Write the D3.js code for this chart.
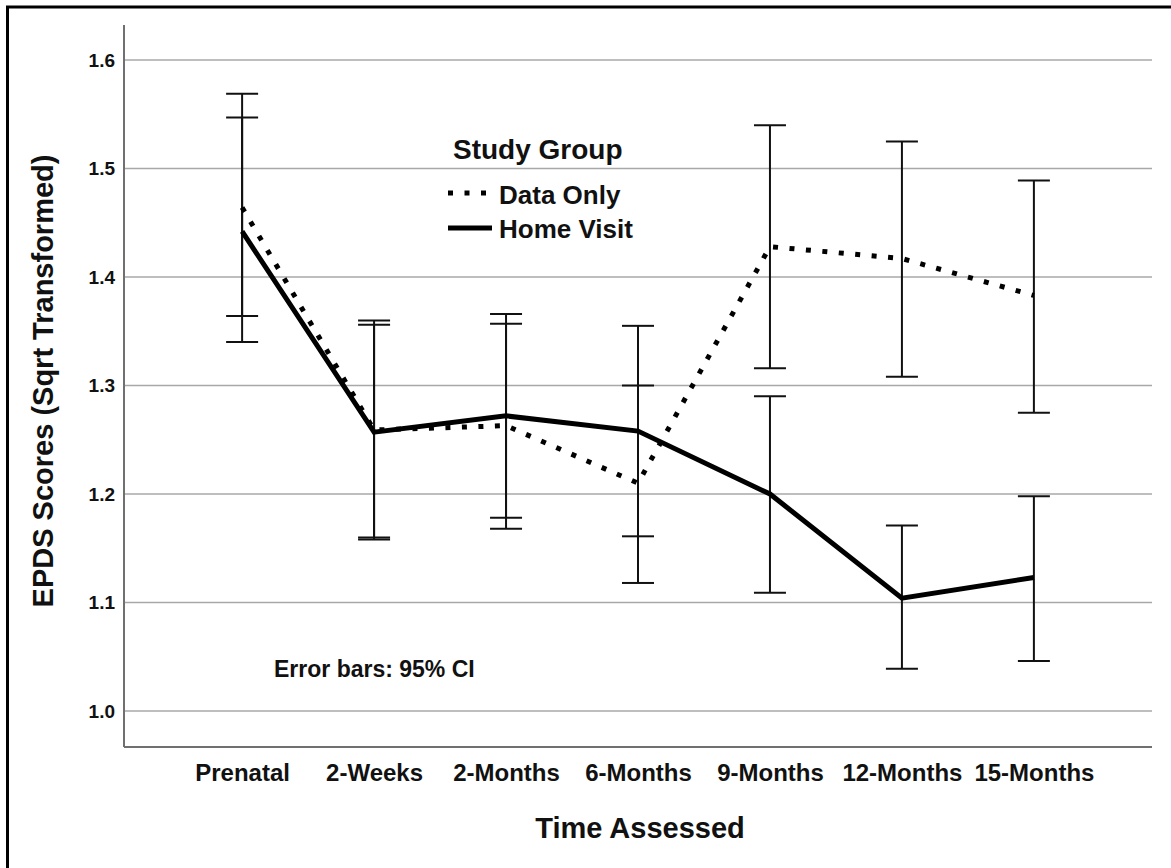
<!DOCTYPE html>
<html>
<head>
<meta charset="utf-8">
<script src="https://cdn.jsdelivr.net/npm/d3@7"></script>
<style>
  body { margin: 0; background: #fff; }
  svg { display: block; font-family: "Liberation Sans", Arial, sans-serif; }
</style>
</head>
<body>
<div id="chart"></div>
<script>
// time points
var times = ["Prenatal", "2-Weeks", "2-Months", "6-Months", "9-Months", "12-Months", "15-Months"];
// Data Only group: means and 95% CI
var dataOnlyMean = [1.464, 1.259, 1.263, 1.210, 1.428, 1.417, 1.383];
var dataOnlyLow  = [1.364, 1.158, 1.168, 1.118, 1.316, 1.308, 1.275];
var dataOnlyHigh = [1.569, 1.360, 1.357, 1.300, 1.540, 1.525, 1.489];
// Home Visit group
var homeMean = [1.442, 1.257, 1.272, 1.258, 1.200, 1.104, 1.123];
var homeLow  = [1.340, 1.160, 1.178, 1.161, 1.109, 1.039, 1.046];
var homeHigh = [1.547, 1.356, 1.366, 1.355, 1.290, 1.171, 1.198];
var yTicks = [1.0, 1.1, 1.2, 1.3, 1.4, 1.5, 1.6];

function drawChart() {
    var W = 1171, H = 868;
    var pLeft = 124, pRight = 1152, pTop = 25, pBottom = 747;

    var svg = d3.select("#chart").append("svg")
        .attr("width", W)
        .attr("height", H);

    // outer frame
    svg.append("rect")
        .attr("x", 7.5).attr("y", 7)
        .attr("width", W).attr("height", H)
        .attr("fill", "none")
        .attr("stroke", "#000")
        .attr("stroke-width", 3);

    var x = d3.scalePoint()
        .domain(times)
        .range([pLeft, pRight])
        .padding(0.895);

    var y = d3.scaleLinear()
        .domain([0.9668, 1.6323])
        .range([pBottom, pTop]);

    // gridlines
    svg.append("g")
        .selectAll("line")
        .data(yTicks).enter()
        .append("line")
        .attr("x1", pLeft).attr("x2", pRight)
        .attr("y1", function (d) { return y(d); })
        .attr("y2", function (d) { return y(d); })
        .attr("stroke", "#a8a8a8")
        .attr("stroke-width", 1.6);

    // y axis labels
    var yAxis = svg.append("g")
        .attr("transform", "translate(" + pLeft + ",0)")
        .call(d3.axisLeft(y).tickValues(yTicks).tickFormat(d3.format(".1f")).tickSize(0).tickPadding(9));
    yAxis.select(".domain").remove();
    yAxis.selectAll("text")
        .attr("font-family", "'Liberation Sans', Arial, sans-serif")
        .attr("font-size", 19)
        .attr("font-weight", "bold")
        .attr("fill", "#111");

    // x axis labels
    var xAxis = svg.append("g")
        .attr("transform", "translate(0," + pBottom + ")")
        .call(d3.axisBottom(x).tickSize(0).tickPadding(17));
    xAxis.select(".domain").remove();
    xAxis.selectAll("text")
        .attr("font-family", "'Liberation Sans', Arial, sans-serif")
        .attr("font-size", 24)
        .attr("font-weight", "bold")
        .attr("fill", "#111");

    // axis lines
    svg.append("line")
        .attr("x1", pLeft).attr("x2", pLeft)
        .attr("y1", pTop).attr("y2", pBottom)
        .attr("stroke", "#707070").attr("stroke-width", 2);
    svg.append("line")
        .attr("x1", pLeft).attr("x2", pRight)
        .attr("y1", pBottom).attr("y2", pBottom)
        .attr("stroke", "#707070").attr("stroke-width", 2);

    // error bars
    function errorBars(low, high, cls) {
        var g = svg.append("g").attr("class", cls);
        var rows = times.map(function (t, i) { return { t: t, lo: low[i], hi: high[i] }; });
        g.selectAll(".stem").data(rows).enter().append("line")
            .attr("x1", function (d) { return x(d.t); })
            .attr("x2", function (d) { return x(d.t); })
            .attr("y1", function (d) { return y(d.lo); })
            .attr("y2", function (d) { return y(d.hi); })
            .attr("stroke", "#111").attr("stroke-width", 2);
        ["lo", "hi"].forEach(function (k) {
            g.selectAll(".cap" + k).data(rows).enter().append("line")
                .attr("x1", function (d) { return x(d.t) - 16; })
                .attr("x2", function (d) { return x(d.t) + 16; })
                .attr("y1", function (d) { return y(d[k]); })
                .attr("y2", function (d) { return y(d[k]); })
                .attr("stroke", "#111").attr("stroke-width", 2);
        });
    }
    errorBars(dataOnlyLow, dataOnlyHigh, "eb-data");
    errorBars(homeLow, homeHigh, "eb-home");

    var line = d3.line()
        .x(function (d, i) { return x(times[i]); })
        .y(function (d) { return y(d); });

    // Home Visit solid
    svg.append("path")
        .datum(homeMean)
        .attr("d", line)
        .attr("fill", "none")
        .attr("stroke", "#000")
        .attr("stroke-width", 5)
        .attr("stroke-linejoin", "miter");

    // Data Only dotted
    svg.append("path")
        .datum(dataOnlyMean)
        .attr("d", line)
        .attr("fill", "none")
        .attr("stroke", "#000")
        .attr("stroke-width", 5)
        .attr("stroke-dasharray", "5,11.5");

    // legend
    var lg = svg.append("g");
    lg.append("text")
        .attr("x", 453).attr("y", 159)
        .attr("font-size", 28).attr("font-weight", "bold").attr("fill", "#111")
        .text("Study Group");
    lg.append("line")
        .attr("x1", 448).attr("x2", 490)
        .attr("y1", 193).attr("y2", 193)
        .attr("stroke", "#000").attr("stroke-width", 5)
        .attr("stroke-dasharray", "5,11.5");
    lg.append("text")
        .attr("x", 499).attr("y", 204)
        .attr("font-size", 26).attr("font-weight", "bold").attr("fill", "#111")
        .text("Data Only");
    lg.append("line")
        .attr("x1", 448).attr("x2", 492)
        .attr("y1", 228).attr("y2", 228)
        .attr("stroke", "#000").attr("stroke-width", 5);
    lg.append("text")
        .attr("x", 499).attr("y", 238)
        .attr("font-size", 26).attr("font-weight", "bold").attr("fill", "#111")
        .text("Home Visit");

    // note
    svg.append("text")
        .attr("x", 274).attr("y", 677)
        .attr("font-size", 23).attr("font-weight", "bold").attr("fill", "#111")
        .text("Error bars: 95% CI");

    // axis titles
    svg.append("text")
        .attr("x", 640).attr("y", 838)
        .attr("text-anchor", "middle")
        .attr("font-size", 29).attr("font-weight", "bold").attr("fill", "#111")
        .text("Time Assessed");

    svg.append("text")
        .attr("transform", "translate(53,381) rotate(-90)")
        .attr("text-anchor", "middle")
        .attr("font-size", 29).attr("font-weight", "bold").attr("fill", "#111")
        .text("EPDS Scores (Sqrt Transformed)");
}
drawChart();
</script>
</body>
</html>
